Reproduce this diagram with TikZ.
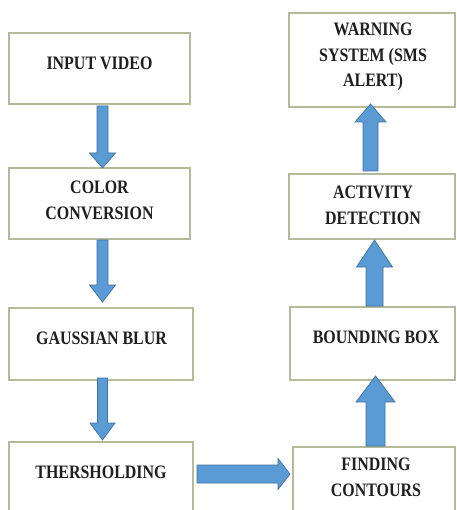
\documentclass[tikz,border=0pt]{standalone}
\usepackage{fontspec}
\setmainfont[FakeStretch=0.84]{Liberation Serif}
\usetikzlibrary{calc}
\definecolor{boxline}{HTML}{B4BB9B}
\definecolor{arrfill}{HTML}{5B9BD5}
\definecolor{arredge}{HTML}{41719C}
\tikzset{
  box/.style={draw=boxline, line width=1.1pt, rectangle, inner sep=0pt, outer sep=0pt},
  lbl/.style={font=\bfseries\fontsize{19}{25.5}\selectfont, align=center, inner sep=0pt, anchor=base, text=black!88},
  blk/.style={fill=arrfill, draw=arredge, line width=0.7pt, line join=miter},
  downarr/.style n args={3}{to path={let \p1=(\tikztostart), \p2=(\tikztotarget) in
    (\x1-#1,\y1) -- (\x1-#1,\y2+#3) -- (\x1-#2,\y2+#3) -- (\x1,\y2) -- (\x1+#2,\y2+#3) -- (\x1+#1,\y2+#3) -- (\x1+#1,\y1) -- cycle}},
  uparr/.style n args={3}{to path={let \p1=(\tikztostart), \p2=(\tikztotarget) in
    (\x1-#1,\y1) -- (\x1-#1,\y2-#3) -- (\x1-#2,\y2-#3) -- (\x1,\y2) -- (\x1+#2,\y2-#3) -- (\x1+#1,\y2-#3) -- (\x1+#1,\y1) -- cycle}},
  rightarr/.style n args={3}{to path={let \p1=(\tikztostart), \p2=(\tikztotarget) in
    (\x1,\y1-#1) -- (\x2-#3,\y1-#1) -- (\x2-#3,\y1-#2) -- (\x2,\y1) -- (\x2-#3,\y1+#2) -- (\x2-#3,\y1+#1) -- (\x1,\y1+#1) -- cycle}},
}
\begin{document}
\begin{tikzpicture}[x=1pt,y=1pt]
\useasboundingbox (0,0) rectangle (456,-510);
\fill[white] (0,0) rectangle (456,-510);
\clip (0,0) rectangle (456,-510);
% boxes
\node[box, minimum width=181pt, minimum height=71pt] (inp) at (99.5,-68.5) {};
\node[box, minimum width=181pt, minimum height=71pt] (col) at (99.5,-203.5) {};
\node[box, minimum width=184pt, minimum height=72pt] (gau) at (101,-344) {};
\node[box, minimum width=184pt, minimum height=88pt] (thr) at (101,-486) {};
\node[box, minimum width=166pt, minimum height=94pt] (warn) at (372,-60) {};
\node[box, minimum width=166pt, minimum height=65pt] (act) at (372,-206.5) {};
\node[box, minimum width=165pt, minimum height=73pt] (bb) at (372.5,-343.5) {};
\node[box, minimum width=162pt, minimum height=83pt] (find) at (374,-488.5) {};
% labels (anchor = baseline of last line)
\node[lbl] (tinp) at (99.5,-70) {INPUT VIDEO};
\node[lbl] (tcol) at (99.5,-219.5) {COLOR\\CONVERSION};
\node[lbl] (tgau) at (101.5,-344) {GAUSSIAN BLUR};
\node[lbl] (tthr) at (101,-478) {THERSHOLDING};
\node[lbl] (twarn) at (373,-86.7) {WARNING\\SYSTEM (SMS\\ALERT)};
\node[lbl] (tact) at (373,-224.3) {ACTIVITY\\DETECTION};
\node[lbl] (tbb) at (376,-343) {BOUNDING BOX};
\node[lbl] (tfind) at (376,-496) {FINDING\\CONTOURS};
% arrows
\draw[blk, downarr={5.5pt}{13pt}{15pt}] ([xshift=3pt,yshift=-2pt]inp.south) to (col.north);
\draw[blk, downarr={5.5pt}{13pt}{17pt}] ([xshift=3pt,yshift=-1pt]col.south) to ([yshift=6pt]gau.north);
\draw[blk, downarr={5pt}{12.5pt}{17pt}] ([xshift=1.5pt,yshift=2pt]gau.south) to ([yshift=2pt]thr.north);
\draw[blk, rightarr={9pt}{15.5pt}{12pt}] ([xshift=4pt,yshift=12pt]thr.east) to ([xshift=-3pt]find.west);
\draw[blk, uparr={9.5pt}{19.5pt}{26pt}] ([xshift=1.5pt,yshift=1pt]find.north) to ([yshift=4pt]bb.south);
\draw[blk, uparr={8.5pt}{18pt}{27pt}] ([xshift=2pt,yshift=1pt]bb.north) to ([yshift=-1pt]act.south);
\draw[blk, uparr={7.5pt}{15.5pt}{18pt}] ([xshift=-1.5pt,yshift=3pt]act.north) to ([yshift=3pt]warn.south);
\end{tikzpicture}
\end{document}
